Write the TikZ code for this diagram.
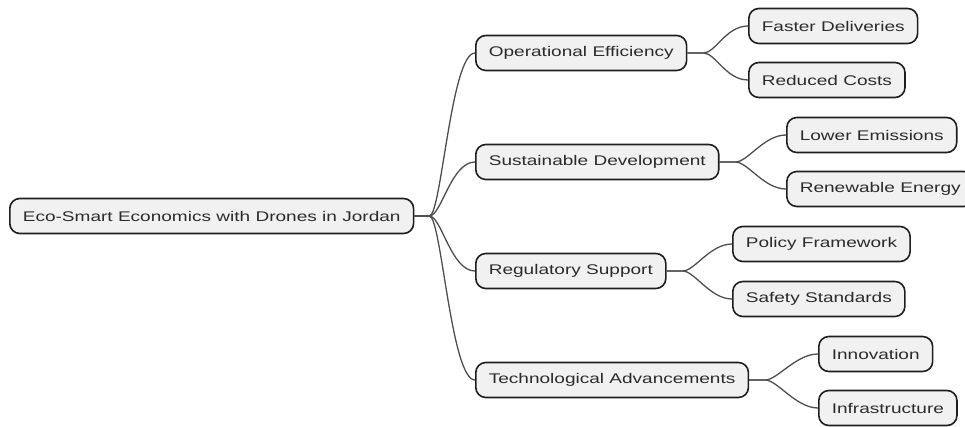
\documentclass[tikz,border=0pt]{standalone}
\usepackage{fontspec}
\newfontfamily\mapfont{Liberation Sans}[FakeStretch=1.36]
\definecolor{boxfill}{HTML}{F1F1F1}
\definecolor{boxline}{HTML}{1E1E1E}
\definecolor{linkgray}{HTML}{4E4E4E}
\definecolor{textgray}{HTML}{2B2B2B}
\tikzset{
  topic/.style = {draw=boxline, line width=1.6pt, fill=boxfill, rounded corners=10pt,
    anchor=west, minimum height=35pt, inner xsep=13pt, text=textgray,
    font=\mapfont\fontsize{14}{16}\selectfont},
  branch/.style = {draw=linkgray, line width=1.3pt}
}
\begin{document}
\begin{tikzpicture}[x=1pt,y=1pt]
  \useasboundingbox (0,0) rectangle (965,426);

  % root of the map
  \node[topic] (root) at (9,210) {Eco-Smart Economics with Drones in Jordan};

  % first level
  \node[topic] (ops) at (475,373) {Operational Efficiency};
  \node[topic] (sus) at (475,264) {Sustainable Development};
  \node[topic] (reg) at (475,155) {Regulatory Support};
  \node[topic] (tec) at (475,46) {Technological Advancements};

  % second level
  \node[topic] (fast) at (748,400) {Faster Deliveries};
  \node[topic] (cost) at (748,346) {Reduced Costs};
  \node[topic] (emis) at (786,291) {Lower Emissions};
  \node[topic] (ener) at (786,237) {Renewable Energy};
  \node[topic] (poli) at (732,182) {Policy Framework};
  \node[topic] (safe) at (732,127) {Safety Standards};
  \node[topic] (inno) at (818,72) {Innovation};
  \node[topic] (infr) at (818,18) {Infrastructure};

  % links from the root
  \foreach \c in {ops,sus,reg,tec}
    \draw[branch] (root.east) -- ++(15,0) .. controls +(12,0) and +(-24,0) .. (\c.west);

  % links to the leaves
  \foreach \p/\c in {ops/fast,ops/cost,sus/emis,sus/ener,reg/poli,reg/safe,tec/inno,tec/infr}
    \draw[branch] (\p.east) -- ++(16,0) .. controls +(12,0) and +(-22,0) .. (\c.west);

\end{tikzpicture}
\end{document}
